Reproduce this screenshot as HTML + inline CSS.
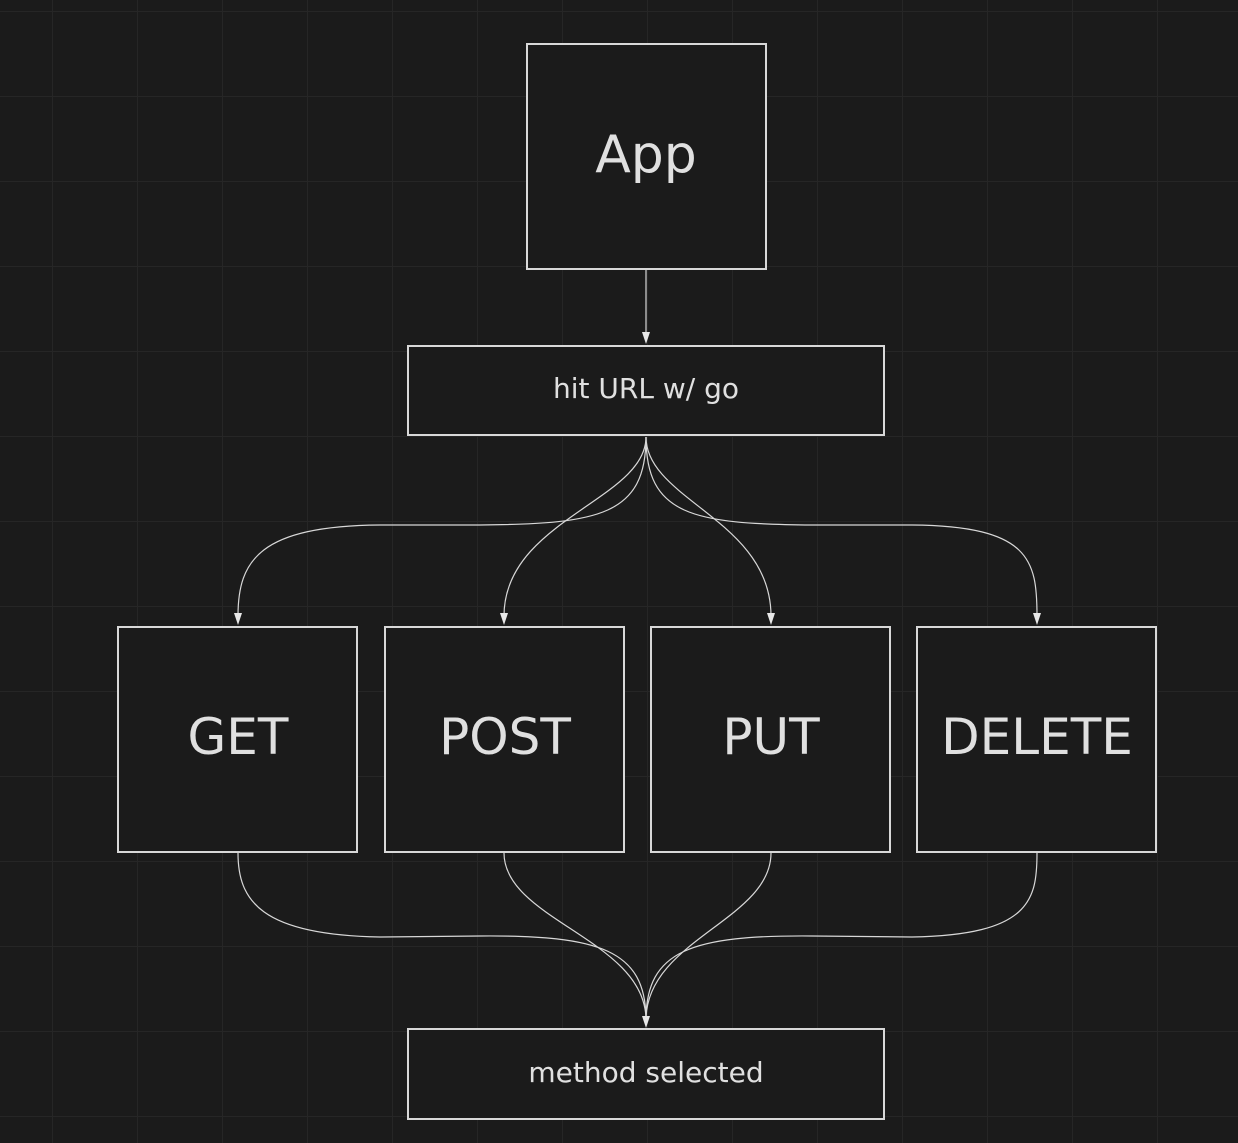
<!DOCTYPE html>
<html><head><style>
html,body{margin:0;padding:0;background:#1b1b1b;}
</style></head><body>
<svg width="1238" height="1143" xmlns="http://www.w3.org/2000/svg" style="display:block">
<defs>
<pattern id="g" x="52" y="11" width="85" height="85" patternUnits="userSpaceOnUse">
<path d="M0 0 H85 M0 0 V85" stroke="#262626" stroke-width="2" fill="none"/>
</pattern>
<marker id="a" markerWidth="8" markerHeight="12" refX="4" refY="11" orient="auto-start-reverse" markerUnits="userSpaceOnUse" viewBox="0 0 8 12">
</marker>
</defs>
<rect width="1238" height="1143" fill="#1b1b1b"/>
<rect width="1238" height="1143" fill="url(#g)"/>
<g fill="none" stroke="#d8d8d8" stroke-width="1.2">
<path d="M646 270 V336"/>
<path d="M646 437 C646 515 600 524 480 525 L380 525 C260 526 238 560 238 616"/>
<path d="M646 437 C646 500 504 520 504 616"/>
<path d="M646 437 C646 500 771 520 771 616"/>
<path d="M646 437 C646 515 692 524 812 525 L912 525 C1030 526 1037 560 1037 616"/>
<path d="M238 853 C238 900 260 935 380 937 L480 936 C600 935 646 950 646 1020"/>
<path d="M504 853 C504 920 646 940 646 1020"/>
<path d="M771 853 C771 920 646 940 646 1020"/>
<path d="M1037 853 C1037 900 1030 935 912 937 L812 936 C692 935 646 950 646 1020"/>
</g>
<g fill="#e8e8e8">
<path d="M642 332 L650 332 L646 344 Z"/>
<path d="M234 613 L242 613 L238 625 Z"/>
<path d="M500 613 L508 613 L504 625 Z"/>
<path d="M767 613 L775 613 L771 625 Z"/>
<path d="M1033 613 L1041 613 L1037 625 Z"/>
<path d="M642 1016 L650 1016 L646 1028 Z"/>
</g>
<g fill="#1b1b1b" stroke="#d8d8d8" stroke-width="2">
<rect x="527" y="44" width="239" height="225"/>
<rect x="408" y="346" width="476" height="89"/>
<rect x="118" y="627" width="239" height="225"/>
<rect x="385" y="627" width="239" height="225"/>
<rect x="651" y="627" width="239" height="225"/>
<rect x="917" y="627" width="239" height="225"/>
<rect x="408" y="1029" width="476" height="90"/>
</g>
<g fill="#e0e0e0" font-family="'DejaVu Sans','Liberation Sans',sans-serif" text-anchor="middle">
<text x="646" y="172" font-size="52">App</text>
<text x="646" y="398" font-size="28">hit URL w/ go</text>
<text x="238" y="754" font-size="50">GET</text>
<text x="505" y="754" font-size="50">POST</text>
<text x="771" y="754" font-size="50">PUT</text>
<text x="1037" y="754" font-size="50">DELETE</text>
<text x="646" y="1082" font-size="28">method selected</text>
</g>
</svg>
</body></html>
